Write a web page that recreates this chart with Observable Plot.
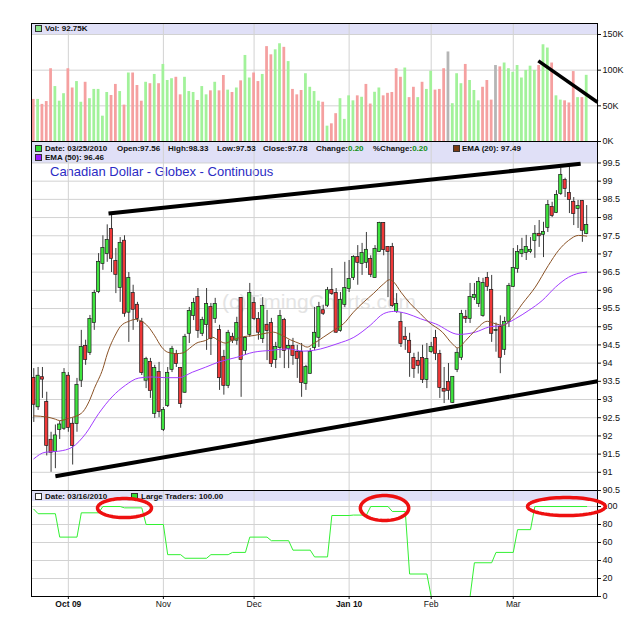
<!DOCTYPE html>
<html><head><meta charset="utf-8">
<script src="https://cdn.jsdelivr.net/npm/d3@7"></script>
<script src="https://cdn.jsdelivr.net/npm/@observablehq/plot@0.6"></script>
<style>
body{margin:0;background:#fff;font-family:"Liberation Sans",Arial,sans-serif;}
#wrap{position:relative;width:625px;height:623px;overflow:hidden;background:#fff;}
.band{position:absolute;left:31px;width:566px;background:#e0e0f7;z-index:0;}
.hdr{position:absolute;font-size:8px;font-weight:bold;color:#111;white-space:nowrap;line-height:9px;z-index:2;}
.sq{position:absolute;width:5px;height:5px;border:1px solid #333;z-index:2;}
.g{color:#109010;}
.pl{position:absolute;left:0;z-index:1;}
.ov{position:absolute;left:0;z-index:3;}
.bg{position:absolute;white-space:nowrap;z-index:0;}
</style></head>
<body><div id="wrap">
<div class="band" style="top:23px;height:11px"></div>
<div class="band" style="top:141px;height:22px"></div>
<div class="band" style="top:490px;height:11px"></div>

<div class="sq" style="left:35px;top:25px;background:#8be88b"></div>
<div class="hdr" style="left:45px;top:24px">Vol: 92.75K</div>

<div class="sq" style="left:35px;top:145px;background:#33dd33"></div>
<div class="hdr" style="left:45px;top:144px">Date: 03/25/2010</div>
<div class="hdr" style="left:117px;top:144px">Open:97.56</div>
<div class="hdr" style="left:168px;top:144px">High:98.33</div>
<div class="hdr" style="left:217px;top:144px">Low:97.53</div>
<div class="hdr" style="left:263px;top:144px">Close:97.78</div>
<div class="hdr" style="left:316px;top:144px">Change:<span class="g">0.20</span></div>
<div class="hdr" style="left:373px;top:144px">%Change:<span class="g">0.20</span></div>
<div class="sq" style="left:453px;top:145px;background:#7a3b12"></div>
<div class="hdr" style="left:462px;top:144px">EMA (20): 97.49</div>
<div class="sq" style="left:35px;top:154px;background:#9a1aff"></div>
<div class="hdr" style="left:45px;top:153px">EMA (50): 96.46</div>

<div class="bg" style="left:50px;top:164px;font-size:13px;color:#2b2bc4;">Canadian Dollar - Globex - Continuous</div>
<div class="bg" style="left:222px;top:290px;font-size:21px;color:#e4e4e4;">(c)TimingCharts.com</div>

<div class="sq" style="left:35px;top:493px;background:#fff"></div>
<div class="hdr" style="left:45px;top:492px">Date: 03/16/2010</div>
<div class="sq" style="left:131px;top:493px;background:#33dd33"></div>
<div class="hdr" style="left:141px;top:492px">Large Traders: 100.00</div>
</div>
<script>
// ---------- data ----------
const open = [93.58,92.80,93.60,92.92,91.88,91.57,92.18,92.21,93.64,92.32,92.34,93.53,94.46,94.29,95.12,95.97,96.74,97.01,97.67,96.79,
96.08,97.35,95.40,95.91,95.59,95.12,93.53,94.02,92.62,93.74,92.18,92.84,93.83,94.24,93.85,93.20,94.82,95.31,95.80,94.82,
95.06,95.53,95.23,94.90,94.16,93.39,94.71,94.63,95.78,94.35,94.79,95.64,95.20,94.68,95.04,95.09,94.10,94.43,95.17,94.40,
94.46,94.29,94.29,93.44,93.72,94.43,94.71,95.44,95.59,96.00,95.91,94.90,95.61,96.05,96.35,96.90,96.74,96.77,96.85,96.35,
97.07,97.84,97.18,97.18,95.42,95.12,94.71,94.60,94.13,94.05,94.13,93.55,94.32,94.68,94.24,93.28,93.47,92.92,93.83,94.16,
95.26,95.23,95.80,95.64,95.31,96.33,96.00,94.90,94.98,94.38,95.15,96.11,96.60,97.01,97.04,97.07,97.37,97.54,97.54,97.73,
98.28,98.14,98.66,99.02,98.66,98.42,98.25,98.44,97.56];
const high = [93.85,93.88,93.88,93.20,92.10,92.30,92.40,93.85,93.74,92.48,93.58,94.90,94.63,95.31,96.00,97.01,97.50,97.80,98.11,97.15,
97.45,97.50,96.49,96.14,95.67,95.23,94.16,94.13,93.94,94.02,92.78,93.88,94.46,94.35,93.88,94.79,95.53,95.78,96.05,95.26,
96.05,95.64,95.78,95.04,94.35,94.90,94.82,95.26,95.80,94.71,96.19,95.80,95.39,95.80,95.45,95.23,94.57,95.45,95.23,94.63,
94.68,94.49,94.54,93.94,94.40,95.53,95.67,95.59,96.08,96.60,96.05,95.94,96.77,96.82,96.95,97.23,97.29,97.59,96.95,97.23,
97.87,97.86,97.20,97.29,95.91,95.39,94.98,94.82,94.27,94.30,94.49,94.54,94.57,94.90,94.35,93.88,93.99,93.61,94.40,95.45,
95.45,96.19,96.19,96.35,96.33,96.49,96.41,95.10,95.30,95.26,96.19,97.15,97.23,97.43,97.51,97.45,97.78,97.92,97.87,98.47,
98.42,98.74,99.35,99.08,99.43,98.55,98.47,98.47,98.33];
const low = [92.37,92.70,93.03,91.45,91.00,91.10,91.90,92.15,92.10,91.20,92.10,93.33,93.94,94.21,94.90,95.91,96.55,96.77,96.49,95.91,
95.67,95.26,94.57,94.90,95.12,93.66,93.30,93.03,92.48,92.50,92.12,92.78,93.74,93.88,92.76,93.17,94.54,95.17,94.68,94.73,
94.35,94.21,95.09,93.25,93.12,93.30,94.54,94.49,93.06,94.21,94.71,95.17,94.63,94.54,94.07,93.88,93.85,94.13,93.85,93.85,
93.94,93.58,93.06,93.25,93.70,94.35,94.43,95.31,95.53,95.86,94.82,94.85,95.53,95.94,96.27,96.14,96.41,96.60,96.35,96.33,
97.04,96.95,95.80,95.53,95.37,94.43,94.35,93.61,93.58,93.70,93.44,93.30,94.27,94.07,93.03,92.89,92.98,92.89,93.74,94.07,
95.09,95.09,95.72,95.53,95.26,95.97,94.57,94.30,93.71,94.21,94.98,96.08,96.47,96.90,96.82,97.01,96.88,97.18,96.90,97.59,
98.00,98.11,98.61,98.55,98.11,97.78,97.70,97.32,97.53];
const close = [92.87,93.64,93.56,91.74,91.55,92.00,92.30,93.72,92.23,91.74,93.39,94.43,94.10,95.20,95.91,96.77,97.15,97.37,96.88,96.44,
97.29,95.37,96.33,95.48,95.23,93.74,94.10,93.25,93.85,92.67,92.70,93.72,94.38,93.99,92.89,94.71,95.42,95.64,94.90,95.17,
95.61,94.68,95.61,93.60,93.39,94.82,94.63,95.09,94.10,94.68,95.91,95.23,94.85,95.56,94.90,93.99,94.43,95.28,94.35,94.46,
94.21,94.13,93.47,93.88,94.29,94.82,95.53,95.37,95.99,95.91,94.85,95.72,96.05,96.30,96.90,96.77,97.01,97.10,96.44,97.12,
97.84,97.12,97.07,95.58,95.61,94.54,94.65,94.29,93.85,93.94,93.55,94.10,94.43,94.27,93.33,93.23,93.25,93.61,94.27,95.34,
95.23,95.80,95.86,96.22,96.19,96.11,94.82,94.90,94.16,95.12,96.11,96.60,97.04,97.10,97.18,97.10,97.54,97.50,97.59,98.33,
98.06,98.61,99.16,98.80,98.50,98.11,98.30,97.65,97.78];

// volume in thousands, and bar colour (G up, R down, N unchanged)
const volumeK = [59,59,52,56,102,77,56.5,67,102,75,84,55,83,60,73,73,35.5,68.7,64.5,80,
70,51,96,96,78.5,56.5,83,81,94,81,108,85.5,88,90,65.4,90,70,68.7,57.5,77,
65.4,71,83,71,92.5,72,68.7,75,85,120.6,89,96,84,94,133,121.5,128.5,137,132,112,
73,65.4,71.5,95,76,70,56.5,55,21.5,24.8,39,60,31,64,57,64,62,80,52.5,69,
75,64,67.5,68.7,102,90,103,61.5,76,61.5,83,73,98.5,72,73,102,125.5,53,95,81,
108,85.5,71.5,57,76,85.5,58,106.5,104.6,110,102,97,106.5,89,99.6,105.6,99.6,106.5,135.6,131,
110,64,58,57,54,98,61.5,61.5,92.75];
const volumeDir = "RGRRRGGGRRGGRGGGGGRRGRGRRRGRGRGGGRRGGGRGGRGRRGRGRGGRRGRRGGRGRRRGGGGR" +
                  "GRRGGGGRGRRGGRRRRRGRRGRGGRRRNGGGRGGGRRRNRGGGGGGGGRGGRGGRRRGRG";

// moving averages read at points (candle index, value)
const ema20Idx = [0,3,5,6,8,11,13,14,16,17,19,20,22,23.5,25,26.5,28,29.6,31,33,34.5,36,37.5,39.7,41.4,42.8,44.4,45.5,47.8,51,53.2,55.5,57,59.4,61.7,63.3,64.7,67,69.4,71.7,74,76.4,78.6,81,82.3,83.3,85,87.2,89.5,91.4,94.6,96.9,98.1,100,102.2,105,106.9,108.7,110.8,113.1,116.1,119.1,121.5,123.8,126.1,128];
const ema20Val = [92.55,92.52,92.46,92.42,92.48,92.62,93.0,93.3,93.85,94.25,94.8,95.0,95.15,95.2,95.15,95.0,94.75,94.44,94.3,94.26,94.28,94.4,94.54,94.62,94.71,94.62,94.55,94.6,94.71,94.76,94.81,94.85,94.79,94.64,94.53,94.44,94.53,94.71,94.9,95.08,95.4,95.68,95.91,96.18,96.29,96.23,95.95,95.63,95.36,95.13,94.85,94.53,94.42,94.62,94.9,95.15,95.08,95.04,95.26,95.63,96.09,96.68,97.1,97.37,97.51,97.49];
const ema50Idx = [0,2.6,5.8,8.9,12,15,18.1,21.2,24.3,27.4,30.5,33.6,36.7,39.8,42.8,47,50.9,54.8,58.7,62.5,64.8,67.9,70.2,74.1,77.9,81,83.3,86.4,89.5,93,98.4,102.2,105.3,108.4,111.5,114.6,117.7,120.8,123.8,126.2,128];
const ema50Val = [91.37,91.55,91.58,91.69,92.06,92.61,93.07,93.39,93.59,93.62,93.6,93.6,93.75,93.89,94.03,94.16,94.3,94.35,94.39,94.33,94.35,94.44,94.53,94.71,95.04,95.36,95.42,95.36,95.22,95.08,94.79,94.85,94.99,95.04,95.22,95.45,95.72,96.09,96.36,96.47,96.5];

// Large Traders (weekly): first candle, last candle, value
const ltStart = [0,1,6,11,16,21,26,31,35,41,46,50,55,60,65,69,74,78,83,87,92,102,107,112,116];
const ltEnd   = [0,5,10,15,20,25,30,34,40,45,49,54,59,64,68,73,77,82,86,91,101,106,111,115,128];
const ltValue = [97,92,66,93,100,98.5,80,46.5,42.5,46.5,49,66,62,51.5,44,90,90.5,100,94.5,25,0,37.5,49,74.3,100];

// hand-drawn annotations: trend lines (index, value) and ellipses
const priceLines = [{i1:17.3,v1:98.11,i2:126.6,v2:99.48},{i1:5.0,v1:90.89,i2:130.5,v2:93.50}];
const volLines = [{i1:116.8,v1:113,i2:130.5,v2:55}];
const ellCx = [21.0,81.2,123.3], ellCy = [98.3,98.3,100], ellRx = [6.25,5.6,9.0], ellRy = [10.6,13.9,10];

// axis ticks
const tickIdx = [8,30,51,73,92,111];
const tickLabels = ["Oct 09","Nov","Dec","Jan 10","Feb","Mar"];
const tickBold = [true,false,false,true,false,false];
const priceTicks = [90.5,91,91.5,92,92.5,93,93.5,94,94.5,95,95.5,96,96.5,97,97.5,98,98.5,99,99.5];
const volTicks = [0,50,100,150];
const ltTicks = [0,20,40,60,80,100];

// ---------- build ----------
const candles = close.map((c,i)=>({i,o:open[i],h:high[i],l:low[i],c}));
const vols = volumeK.map((v,i)=>({i,v,d:volumeDir[i]}));
const volColor = {G:"#a2f29a",R:"#f5a0a0",N:"#b5b5b5"};
const ema20 = ema20Idx.map((i,k)=>({i,v:ema20Val[k]}));
const ema50 = ema50Idx.map((i,k)=>({i,v:ema50Val[k]}));
const ltPts = [];
ltStart.forEach((s,k)=>{ltPts.push({i:s,v:ltValue[k]}); if(ltEnd[k]!==s) ltPts.push({i:ltEnd[k],v:ltValue[k]});});
const ellPts = [];
ellCx.forEach((cx,e)=>{for(let t=0;t<=72;t++){const a=t/72*2*Math.PI; ellPts.push({e,i:cx+ellRx[e]*Math.cos(a),v:ellCy[e]+ellRy[e]*Math.sin(a)});}});
const xLab = tickIdx.map((i,k)=>({i,label:tickLabels[k],bold:tickBold[k]}));

const GRID = "#d2d2d2";
const styleStr = "background:transparent;overflow:visible;font-size:9px;font-family:'Liberation Sans',Arial,sans-serif;color:#111;";
const common = {width:625, marginLeft:31, marginRight:28, marginTop:0, style:styleStr,
  x:{type:"linear", domain:[-0.53,130.5]}};
const yAx = {axis:"right", tickSize:3, tickPadding:2, label:null};
const fmtP = d => (d % 1 === 0 ? d.toFixed(0) : d.toFixed(1));

const volPlot = Plot.plot({...common, height:118, marginBottom:0,
  x:{...common.x, axis:null},
  y:{...yAx, domain:[0,165.4], ticks:volTicks, tickFormat:d=>d+"K"},
  marks:[
    Plot.ruleY(volTicks.filter(d=>d>0), {stroke:GRID}),
    Plot.ruleX(tickIdx, {stroke:GRID}),
    Plot.rect(vols, {x1:d=>d.i-0.32, x2:d=>d.i+0.32, y1:0, y2:"v", fill:d=>volColor[d.d]}),
    Plot.link(volLines, {x1:"i1", y1:"v1", x2:"i2", y2:"v2", stroke:"#000", strokeWidth:3.5}),
    Plot.frame({stroke:"#000"})
  ]});

const mainPlot = Plot.plot({...common, height:349, marginBottom:0,
  x:{...common.x, axis:null},
  y:{...yAx, domain:[90.5,100.09], ticks:priceTicks, tickFormat:fmtP},
  marks:[
    Plot.ruleY(priceTicks.filter(d=>d>90.5), {stroke:GRID}),
    Plot.ruleX(tickIdx, {stroke:GRID}),
    Plot.ruleX(candles, {x:"i", y1:"l", y2:"h", stroke:"#3a3a3a", strokeWidth:1}),
    Plot.rect(candles, {x1:d=>d.i-0.37, x2:d=>d.i+0.37, y1:"o", y2:"c",
      fill:d=>d.c>=d.o?"#3ee43e":"#f03838", stroke:"#1a1a1a", strokeWidth:0.7, insetTop:-0.5, insetBottom:-0.5}),
    Plot.line(ema50, {x:"i", y:"v", stroke:"#a23cff", strokeWidth:1, curve:"monotone-x"}),
    Plot.line(ema20, {x:"i", y:"v", stroke:"#8a5226", strokeWidth:1, curve:"monotone-x"}),
    Plot.link(priceLines, {x1:"i1", y1:"v1", x2:"i2", y2:"v2", stroke:"#000", strokeWidth:4}),
    Plot.frame({stroke:"#000"})
  ]});

const ltY = {...yAx, domain:[0,117.8], ticks:ltTicks};
const ltPlot = Plot.plot({...common, height:126, marginBottom:20,
  x:{...common.x, axis:"bottom", ticks:tickIdx, tickFormat:()=>"", tickSize:3, label:null},
  y:ltY,
  marks:[
    Plot.ruleY(ltTicks.filter(d=>d>0), {stroke:GRID}),
    Plot.ruleX(tickIdx, {stroke:GRID}),
    Plot.line(ltPts, {x:"i", y:"v", stroke:"#33f033", strokeWidth:1}),
    Plot.frame({stroke:"#000"}),
    Plot.text(xLab.filter(d=>d.bold), {x:"i", text:"label", frameAnchor:"bottom", dy:10, fontWeight:"bold", fontSize:8.5}),
    Plot.text(xLab.filter(d=>!d.bold), {x:"i", text:"label", frameAnchor:"bottom", dy:10, fontSize:8.5})
  ]});

// annotation ellipses drawn on top of the header text, same scales
const ellPlot = Plot.plot({...common, height:126, marginBottom:20,
  x:{...common.x, axis:null},
  y:{...ltY, axis:null},
  marks:[
    Plot.line(ellPts, {x:"i", y:"v", z:"e", stroke:"#ee1010", strokeWidth:3.5})
  ]});

const wrap = document.getElementById("wrap");
[[volPlot,23,"pl"],[mainPlot,141,"pl"],[ltPlot,490,"pl"],[ellPlot,490,"ov"]].forEach(([el,top,cls])=>{
  const d = document.createElement("div");
  d.className = cls; d.style.top = top + "px";
  d.appendChild(el); wrap.appendChild(d);
});
</script>
</body></html>
